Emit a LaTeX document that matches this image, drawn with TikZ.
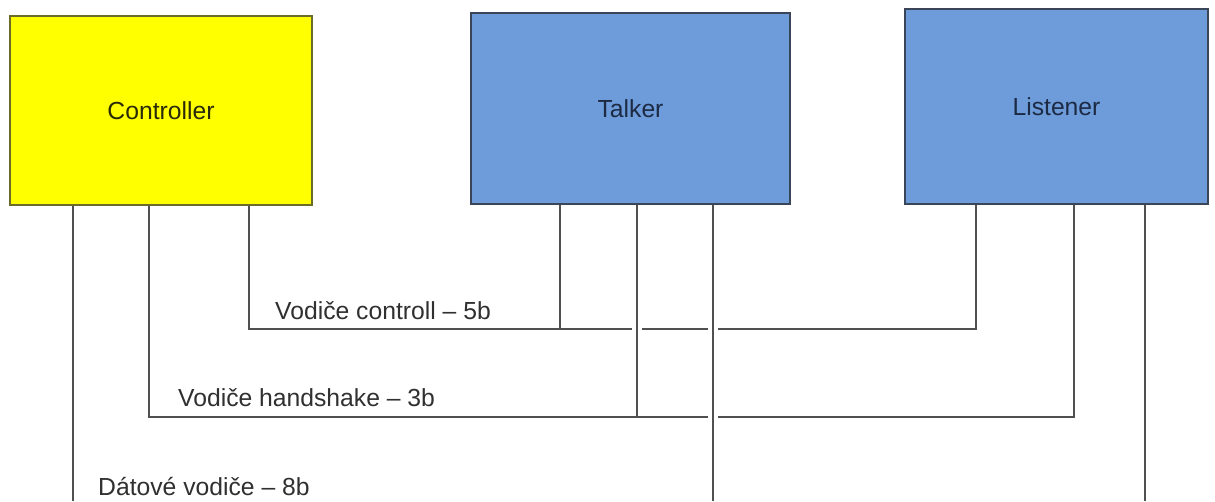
\documentclass[tikz,border=0pt]{standalone}
\usepackage{fontspec}
\setmainfont{Liberation Sans}
\definecolor{ctrlfill}{HTML}{FFFF00}
\definecolor{ctrledge}{HTML}{6B6B2A}
\definecolor{bluefill}{HTML}{6E9CDA}
\definecolor{blueedge}{HTML}{3A4658}
\definecolor{bluetext}{HTML}{1C2A44}
\definecolor{ctrltext}{HTML}{2A2A08}
\definecolor{wire}{HTML}{505050}
\definecolor{labeltext}{HTML}{303030}
\begin{document}
\begin{tikzpicture}[x=1pt,y=-1pt,
  box/.style={draw, line width=1.8pt, minimum width=#1, inner sep=0pt, anchor=center,
    font=\fontsize{24.7}{28}\selectfont},
  wirepath/.style={draw=wire, line width=2pt},
  gapmark/.style={draw=white, line width=5pt},
  buslabel/.style={anchor=west, inner sep=0pt, text=labeltext, font=\fontsize{24.7}{28}\selectfont}
]
\useasboundingbox[fill=white] (0,0) rectangle (1215,501);

% boxes
\node[box=302pt, minimum height=189pt, fill=ctrlfill, draw=ctrledge, text=ctrltext] (ctrl) at (161,110.5) {Controller};
\node[box=319pt, minimum height=191pt, fill=bluefill, draw=blueedge, text=bluetext] (talk) at (630.5,108.5) {Talker};
\node[box=303pt, minimum height=195pt, fill=bluefill, draw=blueedge, text=bluetext] (list) at (1056.5,106.5) {Listener};

% bus corner / free-end coordinates
\coordinate (cC) at (249,329);
\coordinate (cT) at (560,329);
\coordinate (cL) at (976,329);
\coordinate (hC) at (149,417);
\coordinate (hT) at (637,417);
\coordinate (hL) at (1074,417);
\coordinate (dC) at (73,501);
\coordinate (dT) at (713,501);
\coordinate (dL) at (1145,501);

% control bus
\draw[wirepath] (ctrl.south -| cC) -- (cC) -- (cL) -- (list.south -| cL);
\draw[wirepath] (talk.south -| cT) -- (cT);
% handshake bus
\draw[wirepath] (ctrl.south -| hC) -- (hC) -- (hL) -- (list.south -| hL);
% gaps where vertical wires cross
\draw[gapmark] ([xshift=-5pt]cC -| hT) -- ([xshift=5pt]cC -| hT);
\draw[gapmark] ([xshift=-5pt]cC -| dT) -- ([xshift=5pt]cC -| dT);
\draw[gapmark] ([xshift=-5pt]hC -| dT) -- ([xshift=5pt]hC -| dT);
\draw[wirepath] (talk.south -| hT) -- (hT);
% data bus
\draw[wirepath] (ctrl.south -| dC) -- (dC);
\draw[wirepath] (talk.south -| dT) -- (dT);
\draw[wirepath] (list.south -| dL) -- (dL);

% labels
\node[buslabel] (lc) at (275,311) {Vodiče controll – 5b};
\node[buslabel] (lh) at (178,398) {Vodiče handshake – 3b};
\node[buslabel] (ld) at (98,487) {Dátové vodiče – 8b};
\end{tikzpicture}
\end{document}
